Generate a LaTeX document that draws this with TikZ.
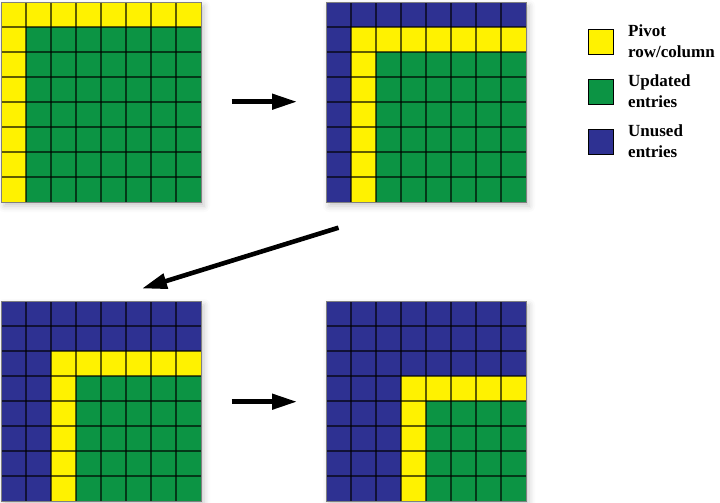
\documentclass[tikz,border=0pt]{standalone}
\usepackage{fontspec}
\setmainfont{Liberation Serif}
\usetikzlibrary{arrows.meta,shadows.blur}
\definecolor{piv}{HTML}{FFF200}
\definecolor{upd}{HTML}{0C9444}
\definecolor{unu}{HTML}{2E3192}
\tikzset{
  gl/.style={black, opacity=0.62, line width=1.3pt},
  border/.style={draw=black!50, line width=0.9pt},
  stepflow/.style={line width=4.6pt, -{Triangle[length=25pt,width=15pt]}},
  legbox/.style={draw=black, line width=1.2pt, minimum size=25pt, inner sep=0pt},
  legtext/.style={anchor=north west, inner sep=0pt, align=left,
    font=\fontsize{17}{21}\selectfont\bfseries},
}
\newcommand\luGrid[4]{%
  \begin{scope}[shift={(#2,#3)}]
    \fill[white, blur shadow={shadow xshift=3pt, shadow yshift=-4pt,
      shadow blur radius=6pt, shadow opacity=22}] (0,0) rectangle (200,200);
    \fill[unu] (0,0) rectangle (200,200);
    \fill[piv] ({#4*25},{#4*25}) rectangle (200,200);
    \fill[upd] ({(#4+1)*25},{(#4+1)*25}) rectangle (200,200);
    \foreach \t in {25,50,...,175} {
      \draw[gl] (\t,0) -- (\t,200);
      \draw[gl] (0,\t) -- (200,\t);
    }
    \draw[border] (0,0) rectangle (200,200);
    \coordinate (#1) at (100,100);
  \end{scope}}
\begin{document}
\begin{tikzpicture}[x=1pt, y=-1pt]
  \useasboundingbox (0,0) rectangle (720,503);
  \luGrid{g1}{1}{2}{0}
  \luGrid{g2}{326}{2}{1}
  \luGrid{g3}{1}{301}{2}
  \luGrid{g4}{326}{301}{3}
  % arrows
  \coordinate (a1s) at (231.5,101.7);
  \coordinate (a1e) at (297,101.7);
  \coordinate (a2s) at (338.5,227.7);
  \coordinate (a2e) at (142,288.5);
  \coordinate (a3s) at (231.5,401.7);
  \coordinate (a3e) at (297,401.7);
  \draw[stepflow] (a1s) -- (a1e);
  \draw[stepflow] (a2s) -- (a2e);
  \draw[stepflow] (a3s) -- (a3e);
  % legend
  \node[legbox, fill=piv] (l1) at (600.8,41.8) {};
  \node[legbox, fill=upd] (l2) at (600.8,91.8) {};
  \node[legbox, fill=unu] (l3) at (600.8,141.8) {};
  \node[legtext] (t1) at (628,25) {Pivot\\row/column};
  \node[legtext] (t2) at (628,75) {Updated\\entries};
  \node[legtext] (t3) at (628,125) {Unused\\entries};
\end{tikzpicture}
\end{document}
